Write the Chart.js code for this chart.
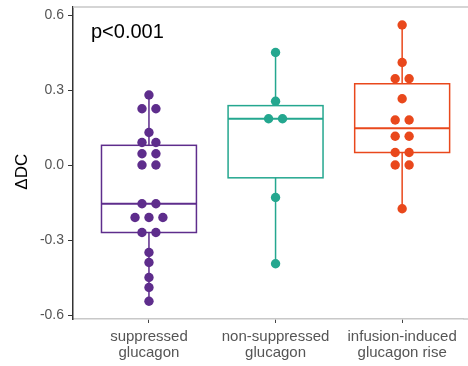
<!DOCTYPE html>
<html>
<head>
<meta charset="utf-8">
<script src="https://cdn.jsdelivr.net/npm/chart.js@4.4.1/dist/chart.umd.min.js"></script>
<style>
  html, body { margin: 0; padding: 0; background: #fff; }
  #wrap { width: 468px; height: 366px; }
</style>
</head>
<body>
<div id="wrap"><canvas id="grafico"></canvas></div>
<script>
// grupos y valores (ΔDC)
const categorias = [["suppressed", "glucagon"], ["non-suppressed", "glucagon"], ["infusion-induced", "glucagon rise"]];
const suprimido = [0.28, 0.225, 0.225, 0.13, 0.09, 0.09, 0.045, 0.045, 0.0, 0.0, -0.155, -0.155,
                   -0.21, -0.21, -0.21, -0.27, -0.27, -0.35, -0.39, -0.45, -0.49, -0.545];
const noSuprimido = [0.45, 0.255, 0.185, 0.185, -0.13, -0.395];
const infusion = [0.56, 0.41, 0.345, 0.345, 0.265, 0.18, 0.18, 0.115, 0.115, 0.05, 0.05, 0.0, 0.0, -0.175];
const yTicks = [-0.6, -0.3, 0.0, 0.3, 0.6];
const colores = ["rgb(94,45,140)", "rgb(36,167,143)", "rgb(233,72,28)"];
const grupos = [suprimido, noSuprimido, infusion];
const fuente = "'Liberation Sans', Arial, sans-serif";

// cuantil tipo 7 (como R)
function cuantil(arr, p) {
    const s = [...arr].sort((a, b) => a - b);
    const h = (s.length - 1) * p;
    const lo = Math.floor(h);
    return s[lo] + (h - lo) * ((s[lo + 1] ?? s[lo]) - s[lo]);
}

// puntos apilados horizontalmente cuando el valor se repite
function puntos(vals, grupo) {
    const cuenta = {};
    vals.forEach(v => { cuenta[v] = (cuenta[v] || 0) + 1; });
    const usados = {};
    return vals.map(v => {
        const n = cuenta[v];
        const k = usados[v] || 0;
        usados[v] = k + 1;
        return { x: grupo + (k - (n - 1) / 2) * 0.11, y: v };
    });
}

const cajas = {
    id: "cajas",
    beforeDatasetsDraw(chart) {
        const c = chart.ctx, x = chart.scales.x, y = chart.scales.y, a = chart.chartArea;
        c.save();
        // borde superior y parte derecha del eje x
        c.strokeStyle = "#c8c8c8";
        c.lineWidth = 1.5;
        c.beginPath();
        c.moveTo(a.left, a.top); c.lineTo(chart.width, a.top);
        c.moveTo(a.right, a.bottom); c.lineTo(chart.width, a.bottom);
        c.stroke();
        grupos.forEach((vals, i) => {
            const g = i + 1;
            const q1 = cuantil(vals, 0.25), q2 = cuantil(vals, 0.5), q3 = cuantil(vals, 0.75);
            const mn = Math.min(...vals), mx = Math.max(...vals);
            const xc = x.getPixelForValue(g), xl = x.getPixelForValue(g - 0.375), xr = x.getPixelForValue(g + 0.375);
            c.strokeStyle = colores[i];
            c.lineWidth = 1.5;
            c.beginPath();
            c.moveTo(xc, y.getPixelForValue(mx)); c.lineTo(xc, y.getPixelForValue(q3));
            c.moveTo(xc, y.getPixelForValue(q1)); c.lineTo(xc, y.getPixelForValue(mn));
            c.stroke();
            c.strokeRect(xl, y.getPixelForValue(q3), xr - xl, y.getPixelForValue(q1) - y.getPixelForValue(q3));
            c.lineWidth = 2;
            c.beginPath();
            c.moveTo(xl, y.getPixelForValue(q2)); c.lineTo(xr, y.getPixelForValue(q2));
            c.stroke();
        });
        // texto p
        c.fillStyle = "#000";
        c.font = "20px " + fuente;
        c.textBaseline = "middle";
        c.fillText("p<0.001", a.left + 18, a.top + 25);
        // titulo del eje y
        c.font = "17px " + fuente;
        c.translate(22, y.getPixelForValue(-0.027));
        c.rotate(-Math.PI / 2);
        c.textAlign = "center";
        c.fillText("ΔDC", 0, 0);
        c.restore();
    }
};

new Chart(document.getElementById("grafico"), {
    type: "scatter",
    data: {
        datasets: grupos.map((vals, i) => ({
            data: puntos(vals, i + 1),
            backgroundColor: colores[i],
            borderColor: colores[i],
            pointRadius: 4.7,
            pointHoverRadius: 4.7,
            borderWidth: 0
        }))
    },
    options: {
        responsive: true,
        maintainAspectRatio: false,
        animation: false,
        layout: { padding: { top: 7, right: 0, left: 0, bottom: 0 } },
        plugins: { legend: { display: false }, tooltip: { enabled: false } },
        scales: {
            x: {
                type: "linear",
                min: 0.4,
                max: 3.483,
                afterBuildTicks: s => { s.ticks = [1, 2, 3].map(v => ({ value: v })); },
                afterFit: s => { s.height = 47; s.paddingLeft = 0; s.paddingRight = 0; },
                border: { display: true, color: "#c8c8c8", width: 1.5 },
                grid: { display: true, drawOnChartArea: false, drawTicks: true, tickLength: 4, color: "#444" },
                ticks: {
                    color: "#555",
                    padding: 6,
                    maxRotation: 0,
                    autoSkip: false,
                    font: { family: fuente, size: 15, lineHeight: 1.07 },
                    callback: v => categorias[v - 1] || ""
                }
            },
            y: {
                min: -0.616,
                max: 0.632,
                afterBuildTicks: s => { s.ticks = yTicks.map(v => ({ value: v })); },
                afterFit: s => { s.width = 73; s.paddingTop = 0; s.paddingBottom = 0; },
                border: { display: true, color: "#333", width: 1.5 },
                grid: { display: true, drawOnChartArea: false, drawTicks: true, tickLength: 5, color: "#333" },
                ticks: {
                    color: "#555",
                    padding: 4,
                    font: { family: fuente, size: 14 },
                    callback: v => v.toFixed(1)
                }
            }
        }
    },
    plugins: [cajas]
});
</script>
</body>
</html>
